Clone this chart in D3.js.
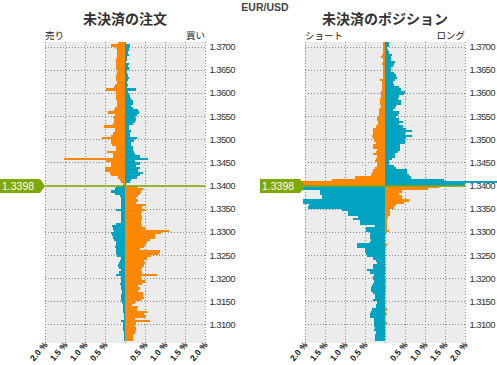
<!DOCTYPE html>
<html>
<head>
<meta charset="utf-8">
<script src="https://cdn.jsdelivr.net/npm/d3@7"></script>
<style>
body { margin: 0; background: #fff; }
svg { display: block; font-family: "Liberation Sans", Arial, sans-serif; }
</style>
</head>
<body>
<svg id="chart" width="497" height="365"></svg>
<script>
// price buckets (lower bound of each 0.0005 bucket), top to bottom
var priceLevels = [
	1.3705,1.3700,1.3695,1.3690,1.3685,1.3680,1.3675,1.3670,1.3665,1.3660,
	1.3655,1.3650,1.3645,1.3640,1.3635,1.3630,1.3625,1.3620,1.3615,1.3610,
	1.3605,1.3600,1.3595,1.3590,1.3585,1.3580,1.3575,1.3570,1.3565,1.3560,
	1.3555,1.3550,1.3545,1.3540,1.3535,1.3530,1.3525,1.3520,1.3515,1.3510,
	1.3505,1.3500,1.3495,1.3490,1.3485,1.3480,1.3475,1.3470,1.3465,1.3460,
	1.3455,1.3450,1.3445,1.3440,1.3435,1.3430,1.3425,1.3420,1.3415,1.3410,
	1.3405,1.3400,
	1.3395,1.3390,1.3385,1.3380,1.3375,1.3370,1.3365,1.3360,1.3355,1.3350,
	1.3345,1.3340,1.3335,1.3330,1.3325,1.3320,1.3315,1.3310,1.3305,1.3300,
	1.3295,1.3290,1.3285,1.3280,1.3275,1.3270,1.3265,1.3260,1.3255,1.3250,
	1.3245,1.3240,1.3235,1.3230,1.3225,1.3220,1.3215,1.3210,1.3205,1.3200,
	1.3195,1.3190,1.3185,1.3180,1.3175,1.3170,1.3165,1.3160,1.3155,1.3150,
	1.3145,1.3140,1.3135,1.3130,1.3125,1.3120,1.3115,1.3110,1.3105,1.3100,
	1.3095,1.3090,1.3085,1.3080,1.3075,1.3070,1.3065
];
var bucketSize = 0.0005;
var currentPrice = 1.3398;

// open orders, % (left side / right side of zero)
var ordersLeft = [
	0.175,0.36,0.22,0.20,0.21,0.21,0.21,0.23,0.23,0.23,
	0.22,0.23,0.21,0.21,0.23,0.22,0.23,0.21,0.26,0.28,
	0.48,0.23,0.23,0.23,0.22,0.21,0.21,0.21,0.26,0.28,
	0.43,0.26,0.31,0.28,0.28,0.30,0.53,0.26,0.26,0.29,
	0.34,0.57,0.36,0.34,0.33,0.23,0.23,0.46,0.29,0.31,
	1.53,0.47,0.34,0.34,0.51,0.51,0.38,0.34,0.18,0.13,
	0.09,0.05,
	0.23,0.26,0.36,0.26,0.125,0.11,0.11,0.09,0.09,0.11,
	0.23,0.09,0.09,0.09,0.09,0.09,0.23,0.33,0.30,
	0.28,0.36,0.33,0.30,0.28,0.22,0.23,0.26,0.23,0.22,0.23,0.21,
	0.11,0.125,0.16,0.18,0.15,0.11,0.16,0.23,0.11,0.09,
	0.11,0.13,0.09,0.09,0.07,0.075,0.11,0.11,0.09,0.07,
	0.04,0.05,0.05,0.05,0.035,0.035,0.025,0.11,0.05,0.05,
	0.05,0.05,0.035,0.035,0.035,0.035
];
var ordersRight = [
	0.03,0.12,0.09,0.09,0.075,0.09,0.06,0.06,0.03,0.09,
	0.075,0.09,0.06,0.06,0.075,0.09,0.075,0.06,0.075,0.06,
	0.27,0.075,0.09,0.12,0.14,0.20,0.20,0.16,0.20,0.33,
	0.34,0.29,0.24,0.28,0.24,0.19,0.09,0.09,0.14,0.13,
	0.12,0.29,0.22,0.16,0.16,0.21,0.21,0.22,0.24,0.37,
	0.57,0.24,0.37,0.27,0.37,0.33,0.44,0.38,0.29,0.16,
	0.12,0.03,
	0.29,0.44,0.39,0.37,0.33,0.28,0.33,0.28,0.52,0.43,
	0.49,0.43,0.39,0.43,0.43,0.41,0.41,0.42,0.49,
	1.09,0.89,0.76,0.76,0.62,0.56,0.49,0.48,0.37,0.87,0.85,0.66,
	0.56,0.48,0.49,0.48,0.42,0.39,0.42,0.81,0.41,0.41,
	0.51,0.42,0.33,0.37,0.33,0.44,0.45,0.48,0.39,0.24,
	0.175,0.33,0.31,0.56,0.48,0.49,0.24,0.62,0.28,0.24,
	0.28,0.28,0.24,0.2,0.2,0.2
];

// open positions, %
var positionsLeft = [
	0.06,0.06,0.06,0.06,0.04,0.075,0.11,0.06,0.06,0.075,
	0.06,0.06,0.04,0.04,0.06,0.06,0.125,0.075,0.075,0.075,
	0.075,0.09,0.09,0.11,0.12,0.12,0.12,0.11,0.125,0.14,0.14,0.14,
	0.20,0.21,0.17,0.17,0.225,0.31,0.31,0.29,0.325,0.31,
	0.27,0.225,0.29,0.29,0.21,0.225,0.29,0.21,0.225,0.26,
	0.21,0.20,0.24,0.31,0.325,0.34,0.74,
	1.325,2.3,2.3,
	2.2,2.2,1.62,1.62,1.575,1.575,2.05,2.05,1.9,1.92,
	1.08,0.93,0.93,0.68,0.81,0.62,0.62,0.24,0.475,0.475,
	0.37,0.37,0.37,0.34,0.37,0.69,0.69,0.51,0.51,0.475,
	0.46,0.31,0.225,0.21,0.31,0.31,0.44,0.375,0.27,0.31,
	0.31,0.275,0.31,0.325,0.34,0.34,0.29,0.24,0.24,0.29,
	0.21,0.225,0.225,0.325,0.36,0.37,0.37,0.27,0.27,0.27,
	0.27,0.25,0.27,0.225,0.24,0.24,0.24
];
var positionsRight = [
	0.11,0.09,0.04,0.07,0.11,0.175,0.15,0.15,0.26,0.22,
	0.19,0.16,0.15,0.23,0.275,0.30,0.26,0.19,0.22,0.34,
	0.40,0.51,0.48,0.36,0.325,0.40,0.41,0.275,0.25,0.19,0.34,0.32,
	0.275,0.36,0.46,0.36,0.44,0.525,0.675,0.51,0.675,0.525,
	0.51,0.51,0.38,0.38,0.38,0.325,0.26,0.26,0.175,0.11,
	0.09,0.22,0.275,0.55,0.55,0.59,0.65,
	1.48,2.8,2.0,
	1.36,1.07,0.425,0.36,0.425,0.425,0.61,0.48,0.275,0.23,
	0.11,0.13,0.13,0.07,0.04,0.04,0.05,0.04,0.04,0.09,
	0.025,0.01,0,0,0,0.06,0.025,0,0,0,
	0,0,0,0,0,0.035,0,0,0,0,
	0,0.035,0,0,0.035,0,0,0,0,0,
	0,0,0,0.05,0,0.04,0,0,0,0.05,
	0,0,0,0,0,0,0
];

var priceTicks = [1.3700,1.3650,1.3600,1.3550,1.3500,1.3450,1.3400,1.3350,1.3300,1.3250,1.3200,1.3150,1.3100];
var pctTicks = [-2,-1.5,-1,-0.5,0,0.5,1,1.5,2];

var orange = "#ff8800", blue = "#00a4c0", green = "#7fa800";

var svg = d3.select("#chart");

var y = d3.scaleLinear().domain([1.3060, 1.3710]).range([343, 42]);

svg.append("text")
	.attr("x", 265).attr("y", 11)
	.attr("text-anchor", "middle")
	.style("font-size", "10.5px").style("font-weight", "bold").style("fill", "#444")
	.text("EUR/USD");

var panels = [
	{left: 45, title: "未決済の注文", lLabel: "売り", rLabel: "買い", L: ordersLeft, R: ordersRight},
	{left: 305, title: "未決済のポジション", lLabel: "ショート", rLabel: "ロング", L: positionsLeft, R: positionsRight}
];

function drawPanel(p) {
	var x = d3.scaleLinear().domain([-2, 2]).range([p.left, p.left + 160]);
	var g = svg.append("g");

	g.append("text")
		.attr("x", x(0)).attr("y", 24)
		.attr("text-anchor", "middle")
		.style("font-family", "'Noto Sans CJK JP', sans-serif")
		.style("font-size", "14px").style("font-weight", "bold").style("fill", "#333")
		.text(p.title);

	g.append("text").attr("x", x(-2)).attr("y", 39)
		.style("font-family", "'Noto Sans CJK JP', sans-serif")
		.style("font-size", "9.5px").style("fill", "#222")
		.text(p.lLabel);
	g.append("text").attr("x", x(2)).attr("y", 39)
		.attr("text-anchor", "end")
		.style("font-family", "'Noto Sans CJK JP', sans-serif")
		.style("font-size", "9.5px").style("fill", "#222")
		.text(p.rLabel);

	g.append("rect")
		.attr("x", x(-2)).attr("y", y.range()[1])
		.attr("width", x(2) - x(-2)).attr("height", y.range()[0] - y.range()[1])
		.style("fill", "#ececec");

	// dotted grid
	g.selectAll("line.vgrid")
		.data(pctTicks)
		.enter().append("line")
		.attr("class", "vgrid")
		.attr("x1", function(d) { return Math.round(x(d)) + 0.5; })
		.attr("x2", function(d) { return Math.round(x(d)) + 0.5; })
		.attr("y1", y.range()[1]).attr("y2", y.range()[0])
		.style("stroke", "#8a8a8a").style("stroke-dasharray", "1,2");
	g.selectAll("line.hgrid")
		.data(priceTicks)
		.enter().append("line")
		.attr("class", "hgrid")
		.attr("x1", x(-2)).attr("x2", x(2))
		.attr("y1", function(d) { return Math.round(y(d)) + 0.5; })
		.attr("y2", function(d) { return Math.round(y(d)) + 0.5; })
		.style("stroke", "#8a8a8a").style("stroke-dasharray", "1,2");

	var bars = g.append("g").attr("shape-rendering", "crispEdges");
	bars.selectAll("rect.l")
		.data(priceLevels)
		.enter().append("rect")
		.attr("class", "l")
		.attr("x", function(d, i) { return x(-p.L[i]); })
		.attr("width", function(d, i) { return x(0) - x(-p.L[i]); })
		.attr("y", function(d) { return y(d + bucketSize); })
		.attr("height", function(d) { return y(d) - y(d + bucketSize); })
		.style("fill", function(d) { return d >= currentPrice ? orange : blue; });
	bars.selectAll("rect.r")
		.data(priceLevels)
		.enter().append("rect")
		.attr("class", "r")
		.attr("x", x(0))
		.attr("width", function(d, i) { return x(p.R[i]) - x(0); })
		.attr("y", function(d) { return y(d + bucketSize); })
		.attr("height", function(d) { return y(d) - y(d + bucketSize); })
		.style("fill", function(d) { return d >= currentPrice ? blue : orange; });

	// price axis on the right
	g.selectAll("text.price")
		.data(priceTicks)
		.enter().append("text")
		.attr("class", "price")
		.attr("x", x(2) + 4.5)
		.attr("y", function(d) { return y(d) + 3.5; })
		.style("font-size", "9.5px").style("letter-spacing", "-0.6px").style("fill", "#333")
		.text(function(d) { return d.toFixed(4); });

	// percent axis, rotated labels
	g.selectAll("text.pct")
		.data(pctTicks.filter(function(d) { return d != 0; }))
		.enter().append("text")
		.attr("class", "pct")
		.attr("text-anchor", "end")
		.attr("transform", function(d) { return "translate(" + (x(d) + 3) + ",345) rotate(-50)"; })
		.style("font-size", "8.5px").style("font-weight", "bold").style("fill", "#111")
		.text(function(d) { return Math.abs(d).toFixed(1) + " %"; });

	// current price line and marker
	var cy = Math.round(y(currentPrice));
	g.append("line")
		.attr("x1", x(-2)).attr("x2", x(2))
		.attr("y1", cy).attr("y2", cy)
		.style("stroke", green).style("stroke-width", 1.5);
	var mx = x(-2);
	g.append("path")
		.attr("d", "M" + (mx - 45) + "," + (cy - 7) + "H" + (mx - 5) + "L" + mx + "," + cy +
			"L" + (mx - 5) + "," + (cy + 7) + "H" + (mx - 45) + "Z")
		.style("fill", green);
	g.append("text")
		.attr("x", mx - 43).attr("y", cy + 4)
		.style("font-size", "10.5px").style("fill", "#fff")
		.text(currentPrice.toFixed(4));
}

panels.forEach(drawPanel);
</script>
</body>
</html>
